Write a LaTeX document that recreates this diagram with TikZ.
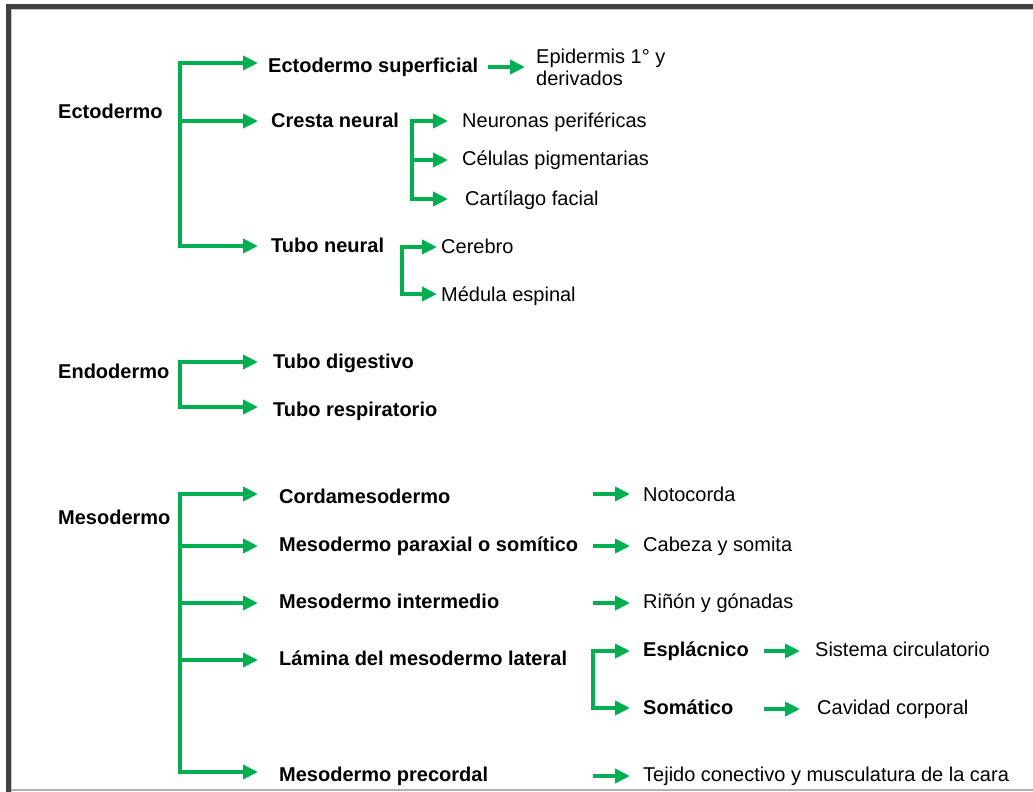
\documentclass[tikz,border=0pt]{standalone}
\usepackage{fontspec}
\setmainfont{Liberation Sans}
\usetikzlibrary{arrows.meta}

\definecolor{arrowgreen}{RGB}{0,176,80}
\definecolor{framegray}{RGB}{64,64,64}

\tikzset{
  txt/.style={anchor=west, inner sep=0pt, text height=14pt, text depth=4pt,
              font=\fontsize{20}{22}\selectfont},
  germ/.style={txt, font=\fontsize{20}{22}\selectfont\bfseries},
  tissue/.style={germ},
  organ/.style={txt},
  spine/.style={draw=arrowgreen, line width=4pt, line cap=rect},
  arr/.style={draw=arrowgreen, line width=4pt,
              -{Triangle[length=15pt,width=14pt]}},
}

\begin{document}
\begin{tikzpicture}[x=1pt,y=-1pt]
\useasboundingbox (0,0) rectangle (1033,792);

% frame
\draw[framegray, line width=5pt] (8.5,792) -- (8.5,6.5) -- (1033,6.5);
\draw[gray!45, line width=1pt] (11.5,792) -- (11.5,9.5) -- (1033,9.5);
\draw[gray!60, line width=1.5pt] (11,790) -- (1033,790);

% germ layers
\node[germ] (ecto) at (58,113) {Ectodermo};
\node[germ] (endo) at (58,373) {Endodermo};
\node[germ] (meso) at (58,519) {Mesodermo};

% ectodermo
\node[tissue] (sup) at (268,67) {Ectodermo superficial};
\node[organ, align=left, text height=, text depth=] (epi) at (536,67) {Epidermis 1° y\\derivados};
\node[tissue] (cres) at (271,122) {Cresta neural};
\node[organ] (neur) at (462,122) {Neuronas periféricas};
\node[organ] (cel) at (462,160) {Células pigmentarias};
\node[organ] (cart) at (465,200) {Cartílago facial};
\node[tissue] (tubn) at (271,247) {Tubo neural};
\node[organ] (cer) at (441,248) {Cerebro};
\node[organ] (med) at (441,296) {Médula espinal};

% endodermo
\node[tissue] (dig) at (273,363) {Tubo digestivo};
\node[tissue] (resp) at (273,411) {Tubo respiratorio};

% mesodermo
\node[tissue] (cord) at (279,498) {Cordamesodermo};
\node[tissue] (parax) at (279,546) {Mesodermo paraxial o somítico};
\node[tissue] (inter) at (279,603) {Mesodermo intermedio};
\node[tissue] (lam) at (279,660) {Lámina del mesodermo lateral};
\node[tissue] (prec) at (279,776) {Mesodermo precordal};
\node[organ] (noto) at (643,496) {Notocorda};
\node[organ] (cab) at (643,546) {Cabeza y somita};
\node[organ] (rin) at (643,603) {Riñón y gónadas};
\node[organ] (tej) at (643,776) {Tejido conectivo y musculatura de la cara};
\node[tissue] (esp) at (643,651) {Esplácnico};
\node[tissue] (som) at (643,709) {Somático};
\node[organ] (circ) at (815,651) {Sistema circulatorio};
\node[organ] (cav) at (817,709) {Cavidad corporal};

% bracket spines
\coordinate (ecto-t) at (180,63);
\coordinate (ecto-b) at (180,246);
\coordinate (cres-t) at (412,121);
\coordinate (cres-b) at (412,199);
\coordinate (tubn-t) at (402,247);
\coordinate (tubn-b) at (402,294);
\coordinate (endo-t) at (180,362);
\coordinate (endo-b) at (180,407);
\coordinate (meso-t) at (180,494);
\coordinate (meso-b) at (180,772);
\coordinate (lam-t) at (593,651);
\coordinate (lam-b) at (593,708);

\foreach \a/\b in {ecto-t/ecto-b, cres-t/cres-b, tubn-t/tubn-b,
                   endo-t/endo-b, meso-t/meso-b, lam-t/lam-b}
  \draw[spine] (\a) -- (\b);

% ectodermo branches
\draw[arr, shorten >=10pt] (ecto-t) -- (ecto-t -| sup.west);
\draw[arr, shorten >=13pt] (ecto-t |- cres-t) -- (cres-t -| cres.west);
\draw[arr, shorten >=13pt] (ecto-b) -- (ecto-b -| tubn.west);
\draw[arr, shorten <=10pt, shorten >=11pt] (sup.east) -- (sup.east -| epi.west);
\draw[arr, shorten >=14pt] (cres-t) -- (cres-t -| neur.west);
\draw[arr, shorten >=14pt] (cres-t |- cel) -- (cel.west);
\draw[arr, shorten >=17pt] (cres-b) -- (cres-b -| cart.west);
\draw[arr, shorten >=4pt] (tubn-t) -- (tubn-t -| cer.west);
\draw[arr, shorten >=4pt] (tubn-b) -- (tubn-b -| med.west);

% endodermo branches
\draw[arr, shorten >=15pt] (endo-t) -- (endo-t -| dig.west);
\draw[arr, shorten >=15pt] (endo-b) -- (endo-b -| resp.west);

% mesodermo branches
\draw[arr, shorten >=21pt] (meso-t) -- (meso-t -| cord.west);
\draw[arr, shorten >=21pt] (meso-t |- parax) -- (parax.west);
\draw[arr, shorten >=21pt] (meso-t |- inter) -- (inter.west);
\draw[arr, shorten >=21pt] (meso-t |- lam) -- (lam.west);
\draw[arr, shorten >=21pt] (meso-b) -- (meso-b -| prec.west);
\draw[arr, shorten >=13pt] (lam-t |- meso-t) -- (meso-t -| noto.west);
\draw[arr, shorten >=13pt] (lam-t |- cab) -- (cab.west);
\draw[arr, shorten >=13pt] (lam-t |- rin) -- (rin.west);
\draw[arr, shorten >=13pt] (lam-t |- tej) -- (tej.west);
\draw[arr, shorten >=13pt] (lam-t) -- (lam-t -| esp.west);
\draw[arr, shorten >=13pt] (lam-b) -- (lam-b -| som.west);
\draw[arr, shorten <=15pt, shorten >=15pt] (esp.east) -- (esp.east -| circ.west);
\draw[arr, shorten <=15pt, shorten >=17pt] (esp.east |- som) -- (cav.west);
\end{tikzpicture}
\end{document}
